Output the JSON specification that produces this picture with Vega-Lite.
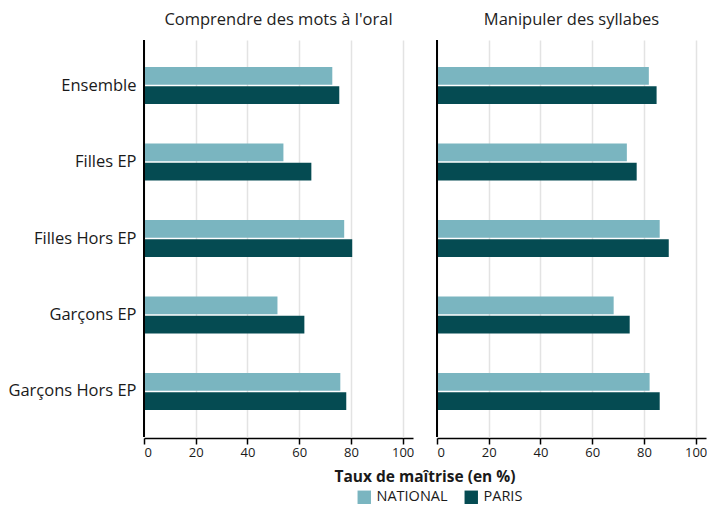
{
  "$schema": "https://vega.github.io/schema/vega-lite/v6.json",
  "padding": {"left": 7, "top": 11, "right": 0, "bottom": 5},
  "background": "white",
  "data": {"values": [
    {"competence": "Comprendre des mots à l'oral", "groupe": "Ensemble", "source": "NATIONAL", "value": 72.8},
    {"competence": "Comprendre des mots à l'oral", "groupe": "Ensemble", "source": "PARIS", "value": 75.5},
    {"competence": "Comprendre des mots à l'oral", "groupe": "Filles EP", "source": "NATIONAL", "value": 53.9},
    {"competence": "Comprendre des mots à l'oral", "groupe": "Filles EP", "source": "PARIS", "value": 64.7},
    {"competence": "Comprendre des mots à l'oral", "groupe": "Filles Hors EP", "source": "NATIONAL", "value": 77.4},
    {"competence": "Comprendre des mots à l'oral", "groupe": "Filles Hors EP", "source": "PARIS", "value": 80.5},
    {"competence": "Comprendre des mots à l'oral", "groupe": "Garçons EP", "source": "NATIONAL", "value": 51.6},
    {"competence": "Comprendre des mots à l'oral", "groupe": "Garçons EP", "source": "PARIS", "value": 62.0},
    {"competence": "Comprendre des mots à l'oral", "groupe": "Garçons Hors EP", "source": "NATIONAL", "value": 75.9},
    {"competence": "Comprendre des mots à l'oral", "groupe": "Garçons Hors EP", "source": "PARIS", "value": 78.2},
    {"competence": "Manipuler des syllabes", "groupe": "Ensemble", "source": "NATIONAL", "value": 81.9},
    {"competence": "Manipuler des syllabes", "groupe": "Ensemble", "source": "PARIS", "value": 84.9},
    {"competence": "Manipuler des syllabes", "groupe": "Filles EP", "source": "NATIONAL", "value": 73.4},
    {"competence": "Manipuler des syllabes", "groupe": "Filles EP", "source": "PARIS", "value": 77.2},
    {"competence": "Manipuler des syllabes", "groupe": "Filles Hors EP", "source": "NATIONAL", "value": 86.1},
    {"competence": "Manipuler des syllabes", "groupe": "Filles Hors EP", "source": "PARIS", "value": 89.6},
    {"competence": "Manipuler des syllabes", "groupe": "Garçons EP", "source": "NATIONAL", "value": 68.3},
    {"competence": "Manipuler des syllabes", "groupe": "Garçons EP", "source": "PARIS", "value": 74.5},
    {"competence": "Manipuler des syllabes", "groupe": "Garçons Hors EP", "source": "NATIONAL", "value": 82.2},
    {"competence": "Manipuler des syllabes", "groupe": "Garçons Hors EP", "source": "PARIS", "value": 86.1}
  ]},
  "facet": {
    "column": {
      "field": "competence",
      "type": "nominal",
      "sort": ["Comprendre des mots à l'oral", "Manipuler des syllabes"],
      "title": "Taux de maîtrise (en %)",
      "header": {
        "labelOrient": "top",
        "labelFont": "Open Sans", "labelFontSize": 16.5, "labelColor": "#222222", "labelPadding": 11,
        "titleOrient": "bottom",
        "titleFont": "Open Sans", "titleFontSize": 15.5, "titleFontWeight": "bold", "titleColor": "#1a1a1a", "titlePadding": 1
      }
    }
  },
  "spacing": 23,
  "spec": {
    "width": 269,
    "height": 397,
    "layer": [
      {
        "mark": {"type": "bar"},
        "encoding": {
          "y": {
            "field": "groupe",
            "type": "nominal",
            "sort": ["Ensemble", "Filles EP", "Filles Hors EP", "Garçons EP", "Garçons Hors EP"],
            "scale": {"paddingInner": 0.516, "paddingOuter": 0.353},
            "axis": {"title": null, "ticks": false, "domain": false, "labelFont": "Open Sans", "labelFontSize": 16.5, "labelColor": "#1a1a1a", "labelPadding": 7}
          },
          "yOffset": {
            "field": "source",
            "type": "nominal",
            "sort": ["NATIONAL", "PARIS"],
            "scale": {"paddingInner": 0.08}
          },
          "x": {
            "field": "value",
            "type": "quantitative",
            "scale": {"domain": [0, 104], "nice": false},
            "axis": {
              "title": null,
              "values": [0, 10, 20, 30, 40, 50, 60, 70, 80, 90, 100],
              "labelExpr": "datum.value % 20 === 0 ? datum.label : ''",
              "tickOpacity": {"condition": {"test": "datum.value % 20 !== 0", "value": 0}, "value": 1},
              "grid": true,
              "gridColor": "#e3e3e3",
              "gridWidth": 1.5,
              "domainColor": "#000000",
              "domainWidth": 1.5,
              "tickColor": "#000000",
              "tickSize": 6,
              "tickWidth": 1.5,
              "labelFont": "Open Sans",
              "labelFontSize": 13,
              "labelColor": "#1a1a1a",
              "labelPadding": 2
            }
          },
          "color": {
            "field": "source",
            "type": "nominal",
            "sort": ["NATIONAL", "PARIS"],
            "scale": {"domain": ["NATIONAL", "PARIS"], "range": ["#7AB5C0", "#054B52"]},
            "legend": {"title": null, "orient": "none", "legendX": 213, "legendY": 450, "direction": "horizontal", "symbolType": "square", "symbolSize": 180, "symbolStrokeWidth": 0, "labelFont": "Open Sans", "labelFontSize": 14.5, "labelColor": "#1a1a1a", "labelOffset": 5, "columnPadding": 16}
          }
        }
      },
      {
        "mark": {"type": "rule", "color": "#000000", "strokeWidth": 2},
        "encoding": {"x": {"datum": 0}}
      }
    ]
  },
  "config": {
    "view": {"stroke": null},
    "axis": {"gridCap": "butt"}
  }
}
